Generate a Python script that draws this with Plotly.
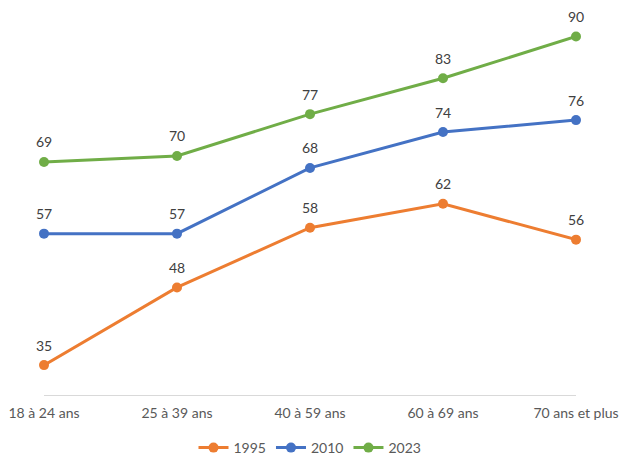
import plotly.graph_objects as go

categories = ["18 à 24 ans", "25 à 39 ans", "40 à 59 ans", "60 à 69 ans", "70 ans et plus"]
series_names = ["1995", "2010", "2023"]
v1995 = [35, 48, 58, 62, 56]
v2010 = [57, 57, 68, 74, 76]
v2023 = [69, 70, 77, 83, 90]
colors = ["#ED7D31", "#4472C4", "#70AD47"]

fig = go.Figure()
annotations = []
for name, vals, col in zip(series_names, [v1995, v2010, v2023], colors):
    fig.add_trace(go.Scatter(
        x=categories, y=vals, name=name, mode="lines+markers",
        line=dict(color=col, width=3), marker=dict(color=col, size=10),
        cliponaxis=False,
    ))
    for c, v in zip(categories, vals):
        annotations.append(dict(x=c, y=v, text=str(v), showarrow=False, yshift=20,
                                font=dict(size=14, color="#404040", family="Lato")))

fig.update_layout(
    width=621, height=457,
    margin=dict(l=44, r=45, t=0, b=62, autoexpand=False),
    paper_bgcolor="white", plot_bgcolor="white",
    font=dict(family="Lato", size=14, color="#595959"),
    showlegend=True,
    annotations=annotations,
    legend=dict(orientation="h", x=0.5, xanchor="center", yref="container",
                y=(457 - 448) / 457, yanchor="middle",
                font=dict(size=14, color="#595959")),
    xaxis=dict(type="category", range=[0, 4], showline=True, linecolor="#D9D9D9",
               linewidth=1, showgrid=False, ticks="", zeroline=False,
               ticklabelstandoff=5,
               tickfont=dict(size=14, color="#595959"), automargin=False),
    yaxis=dict(range=[30, 96.1], visible=False, showgrid=False, zeroline=False),
)

fig.write_html("out.html")
